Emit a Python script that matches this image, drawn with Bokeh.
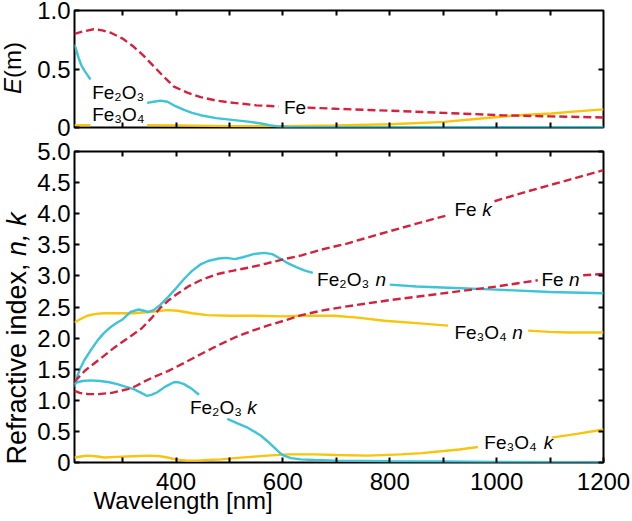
import math
from bokeh.plotting import figure
from bokeh.models import Range1d, LinearAxis, FixedTicker, Label, Title, CustomJSTickFormatter
from bokeh.layouts import column, row
from bokeh.embed import file_html
from bokeh.resources import INLINE

nan = float("nan")

# ---------------- Top panel: E(m) ----------------
wl_fe_em = [210, 225, 246, 262, 278, 300, 321, 340, 359, 378, 396, 420, 446, 475, 509, 550, 592, nan,
            646, 700, 760, 821, 900, 1009, 1100, 1200]
em_fe = [0.80, 0.82, 0.84, 0.83, 0.81, 0.76, 0.69, 0.61, 0.52, 0.43, 0.35, 0.30, 0.26, 0.23, 0.21, 0.19, 0.18, nan,
         0.17, 0.16, 0.15, 0.14, 0.125, 0.105, 0.095, 0.086]

wl_fe2o3_em = [210, 214, 218, 223, 228, 234, 240, nan,
               346, 358, 371, 384, 400, 415, 430, 446, 475, 509, 535, 559, 575, 590, 610, 650, 800, 1000, 1200]
em_fe2o3 = [0.71, 0.65, 0.59, 0.53, 0.49, 0.45, 0.41, nan,
            0.21, 0.22, 0.23, 0.22, 0.18, 0.15, 0.125, 0.105, 0.08, 0.063, 0.05, 0.034, 0.02, 0.01, 0.005, 0.003, 0.003, 0.003, 0.003]

wl_fe3o4_em = [210, 225, 240, nan, 346, 400, 500, 600, 700, 802, 902, 950, 1002, 1050, 1102, 1150, 1200]
em_fe3o4 = [0.02, 0.02, 0.02, nan, 0.02, 0.018, 0.012, 0.012, 0.018, 0.028, 0.048, 0.068, 0.09, 0.107, 0.12, 0.138, 0.155]

# ---------------- Bottom panel: n, k ----------------
wl_fe2o3_n = [210, 215, 220, 228, 240, 253, 265, 278, 290, 300, 315, 330, 340, 348, 358, 370, 385, 400, 415, 430,
              445, 460, 480, 495, 510, 525, 545, 565, 580, 595, 610, 625, 640, 656, nan,
              800, 850, 910, 1000, 1100, 1200]
n_fe2o3 = [1.22, 1.38, 1.50, 1.64, 1.80, 1.96, 2.08, 2.18, 2.25, 2.30, 2.42, 2.46, 2.44, 2.42, 2.45, 2.53, 2.66, 2.80, 2.95, 3.08,
           3.18, 3.24, 3.28, 3.29, 3.27, 3.30, 3.35, 3.37, 3.35, 3.28, 3.20, 3.14, 3.09, 3.05, nan,
           2.86, 2.83, 2.81, 2.78, 2.74, 2.72]

wl_fe_k = [210, 230, 260, 285, 310, 335, 355, 370, 385, 402, 425, 446, 478, 510, 540, 570, 602, 635, 671,
           720, 780, 850, 910, nan, 996, 1050, 1100, 1150, 1200]
k_fe = [1.30, 1.48, 1.68, 1.85, 2.00, 2.15, 2.33, 2.48, 2.60, 2.71, 2.84, 2.93, 3.03, 3.09, 3.14, 3.20, 3.27, 3.33, 3.42,
        3.52, 3.67, 3.84, 3.98, nan, 4.20, 4.34, 4.46, 4.58, 4.70]

wl_fe_n = [210, 220, 235, 255, 280, 310, 325, 340, 360, 385, 415, 446, 478, 510, 540, 571, 602, 635, 671,
           720, 800, 909, 1000, 1077, nan, 1162, 1200]
n_fe = [1.15, 1.12, 1.10, 1.10, 1.12, 1.18, 1.23, 1.30, 1.38, 1.47, 1.60, 1.74, 1.88, 2.01, 2.11, 2.20, 2.28, 2.37, 2.44,
        2.51, 2.61, 2.73, 2.83, 2.93, nan, 3.01, 3.03]

wl_fe2o3_k = [210, 215, 225, 240, 258, 275, 290, 305, 321, 335, 346, 355, 365, 380, 396, 405, 415, 430, 443, nan,
              496, 515, 534, 550, 559, 570, 584, 595, 602, 615, 634, 660, 700, 800, 900, 1000, 1100, 1200]
k_fe2o3 = [1.26, 1.29, 1.31, 1.32, 1.31, 1.29, 1.26, 1.22, 1.18, 1.12, 1.07, 1.09, 1.13, 1.22, 1.29, 1.29, 1.26, 1.18, 1.09, nan,
           0.70, 0.63, 0.56, 0.48, 0.43, 0.35, 0.24, 0.15, 0.11, 0.07, 0.05, 0.04, 0.03, 0.02, 0.015, 0.01, 0.005, 0.0]

wl_fe3o4_k = [210, 225, 234, 250, 265, 290, 320, 352, 370, 384, 400, 421, 440, 459, 485, 509, 540, 571, 609, 659,
              700, 759, 821, 860, 896, 930, 965, nan, 1103, 1150, 1200]
k_fe3o4 = [0.08, 0.10, 0.11, 0.10, 0.08, 0.09, 0.10, 0.11, 0.10, 0.08, 0.05, 0.03, 0.03, 0.04, 0.05, 0.07, 0.09, 0.11, 0.13, 0.13,
           0.12, 0.11, 0.13, 0.15, 0.18, 0.21, 0.25, nan, 0.40, 0.46, 0.53]

wl_fe3o4_n = [210, 222, 234, 250, 265, 290, 321, 350, 384, 403, 430, 459, 500, 540, 600, 634, 696, 740, 790, 850, 909, nan,
              1059, 1100, 1134, 1170, 1200]
n_fe3o4 = [2.25, 2.31, 2.36, 2.39, 2.40, 2.40, 2.40, 2.42, 2.45, 2.44, 2.40, 2.37, 2.36, 2.36, 2.35, 2.36, 2.36, 2.33, 2.28, 2.24, 2.20, nan,
           2.12, 2.10, 2.09, 2.09, 2.09]

# tick positions / labels
x_major_bottom = [400, 600, 800, 1000, 1200]
x_minor_bottom = [300, 500, 700, 900, 1100]
x_all_ticks = [300, 400, 500, 600, 700, 800, 900, 1000, 1100]
y_ticks_top = [0, 0.5, 1.0]
y_ticks_bottom = [0, 0.5, 1.0, 1.5, 2.0, 2.5, 3.0, 3.5, 4.0, 4.5, 5.0]

FONT = "Liberation Sans"
RED = "#d4213d"
CYAN = "#3dc4d6"
YEL = "#f8c40c"
LW = 2.4
DASH = "8 4"
TICK_FS = "24px"
LAB_FS = "19px"

STRIP_W = 31
MAIN_W = 601
H1 = 139
H2 = 382

yfmt = CustomJSTickFormatter(code="return tick == 0 ? '0' : tick.toFixed(1);")


def make_axis(major, minor, standoff=4, fmt=None):
    ax = LinearAxis(ticker=FixedTicker(ticks=major, minor_ticks=minor))
    if fmt is not None:
        ax.formatter = fmt
    ax.axis_line_color = None
    ax.major_tick_in = 5
    ax.major_tick_out = 0
    ax.minor_tick_in = 5
    ax.minor_tick_out = 0
    ax.major_tick_line_width = 2
    ax.minor_tick_line_width = 2
    ax.major_tick_line_color = "black"
    ax.minor_tick_line_color = "black"
    ax.major_label_text_font = FONT
    ax.major_label_text_font_size = TICK_FS
    ax.major_label_text_color = "black"
    ax.major_label_standoff = standoff
    return ax


def base_figure(height, ymax, top, bottom):
    p = figure(width=MAIN_W, height=height, x_range=Range1d(210, 1200), y_range=Range1d(0, ymax),
               x_axis_type=None, y_axis_type=None, toolbar_location=None, output_backend="svg",
               min_border_left=43, min_border_right=29, min_border_top=top, min_border_bottom=bottom)
    p.xgrid.visible = False
    p.ygrid.visible = False
    p.outline_line_color = "black"
    p.outline_line_width = 2
    p.outline_line_alpha = 1.0
    p.background_fill_color = "white"
    p.border_fill_color = "white"
    return p


def strip_figure(height):
    s = figure(width=STRIP_W, height=height, x_range=Range1d(0, STRIP_W), y_range=Range1d(0, height),
               x_axis_type=None, y_axis_type=None, toolbar_location=None, output_backend="svg",
               min_border=0, min_border_left=0, min_border_right=0, min_border_top=0, min_border_bottom=0)
    s.outline_line_color = None
    s.background_fill_color = "white"
    s.border_fill_color = "white"
    return s


def label(p, x, y, text, align="left", italic=False, size=LAB_FS, angle=0.0):
    p.add_layout(Label(x=x, y=y, text=text, text_font=FONT, text_font_size=size,
                       text_font_style="italic" if italic else "normal", text_color="black",
                       text_align=align, text_baseline="middle", angle=angle))


# ---------------- Top figure ----------------
p1 = base_figure(H1, 1.0, 10, 12)
p1.add_layout(make_axis(y_ticks_top, [], fmt=yfmt), "left")
p1.add_layout(make_axis([], [0.5], standoff=0), "right")
p1.add_layout(make_axis([], x_all_ticks, standoff=0), "below")
p1.add_layout(make_axis([], x_all_ticks, standoff=0), "above")

p1.line(wl_fe3o4_em, em_fe3o4, line_color=YEL, line_width=LW)
p1.line(wl_fe2o3_em, em_fe2o3, line_color=CYAN, line_width=LW)
p1.line(wl_fe_em, em_fe, line_color=RED, line_width=LW, line_dash=DASH)

label(p1, 243, 0.299, "Fe₂O₃")
label(p1, 243, 0.111, "Fe₃O₄")
label(p1, 602, 0.167, "Fe")

# ---------------- Bottom figure ----------------
p2 = base_figure(H2, 5.0, 12, 59)
p2.add_layout(make_axis(y_ticks_bottom, [], fmt=yfmt), "left")
p2.add_layout(make_axis([], y_ticks_bottom, standoff=0), "right")
p2.add_layout(make_axis(x_major_bottom, x_minor_bottom, standoff=10), "below")
p2.add_layout(make_axis([], x_all_ticks, standoff=0), "above")
p2.add_layout(Title(text="Wavelength [nm]", align="left", offset=19, vertical_align="top", standoff=-12,
                    text_font=FONT, text_font_size="24px", text_font_style="normal", text_color="black"), "below")

p2.line(wl_fe3o4_n, n_fe3o4, line_color=YEL, line_width=LW)
p2.line(wl_fe3o4_k, k_fe3o4, line_color=YEL, line_width=LW)
p2.line(wl_fe2o3_n, n_fe2o3, line_color=CYAN, line_width=LW)
p2.line(wl_fe2o3_k, k_fe2o3, line_color=CYAN, line_width=LW)
p2.line(wl_fe_n, n_fe, line_color=RED, line_width=LW, line_dash=DASH)
p2.line(wl_fe_k, k_fe, line_color=RED, line_width=LW, line_dash=DASH)

label(p2, 921, 4.06, "Fe")
label(p2, 991, 4.06, "k", align="right", italic=True)
label(p2, 664, 2.94, "Fe₂O₃")
label(p2, 793, 2.94, "n", align="right", italic=True)
label(p2, 1084, 2.94, "Fe")
label(p2, 1155, 2.94, "n", align="right", italic=True)
label(p2, 921, 2.09, "Fe₃O₄")
label(p2, 1049, 2.09, "n", align="right", italic=True)
label(p2, 977, 0.32, "Fe₃O₄")
label(p2, 1106, 0.32, "k", align="right", italic=True)
label(p2, 426, 0.88, "Fe₂O₃")
label(p2, 551, 0.88, "k", align="right", italic=True)

# ---------------- y-axis titles (left strips) ----------------
s1 = strip_figure(H1)
label(s1, 11.7, 61.5, "E", align="right", italic=True, size="24px", angle=math.pi / 2)
label(s1, 11.7, 61.5, "(m)", align="left", size="24px", angle=math.pi / 2)

s2 = strip_figure(H2)
label(s2, 16.7, 258.0, "Refractive index,", align="right", size="27px", angle=math.pi / 2)
label(s2, 16.7, 265.5, "n, k", align="left", italic=True, size="27px", angle=math.pi / 2)

layout = row(column(s1, s2), column(p1, p2))
open("out.html", "w").write(file_html(layout, INLINE))
